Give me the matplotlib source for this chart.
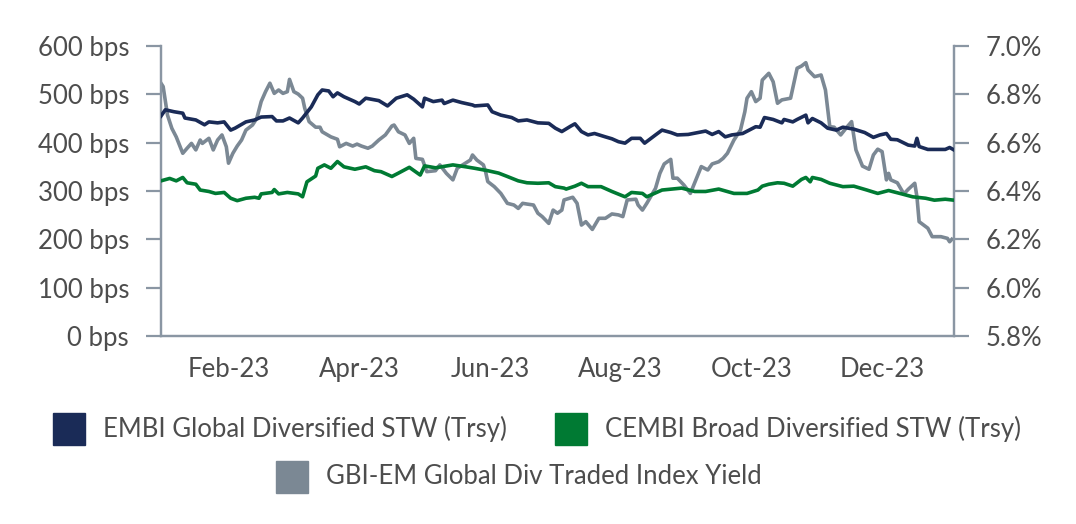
import numpy as np
import pandas as pd
import matplotlib
matplotlib.use("Agg")
import matplotlib.pyplot as plt
from matplotlib.patches import Rectangle

plt.rcParams['font.family'] = ['Lato', 'DejaVu Sans']

# days since 2023-01-01 and values
embi_days = [0, 2, 6, 10, 11, 16, 20, 22, 26, 29, 32, 34, 39, 43, 46, 51, 53, 56, 59, 63,
             65, 69, 72, 74, 77, 79, 81, 84, 89, 91, 94, 100, 104, 108, 113, 116, 120, 121,
             125, 129, 130, 134, 138, 143, 144, 150, 152, 156, 161, 164, 168, 173, 178, 181,
             184, 188, 190, 193, 196, 199, 204, 207, 210, 213, 216, 220, 222, 227, 230, 234,
             237, 242, 250, 253, 256, 259, 262, 267, 270, 273, 275, 277, 281, 285, 286, 290,
             292, 296, 297, 299, 303, 306, 310, 313, 318, 323, 327, 330, 333, 335, 338, 343,
             346, 347, 348, 352, 356, 360, 362, 364]
embi = [455, 468, 464, 461, 451, 447, 437, 443, 441, 443, 426, 430, 443, 447, 453, 454, 445,
        445, 451, 441, 451, 474, 499, 509, 507, 495, 503, 495, 485, 480, 492, 487, 476, 492,
        499, 490, 474, 492, 485, 488, 481, 488, 483, 478, 476, 478, 464, 457, 452, 445, 447,
        441, 440, 430, 423, 434, 439, 423, 416, 419, 412, 408, 402, 399, 409, 409, 399, 416,
        426, 421, 416, 417, 424, 417, 423, 412, 416, 419, 426, 433, 432, 452, 448, 441, 448,
        443, 448, 457, 441, 450, 441, 430, 426, 432, 428, 421, 411, 416, 419, 407, 406, 395,
        393, 409, 392, 386, 386, 386, 390, 385]

cembi_days = [0, 4, 7, 10, 12, 16, 18, 22, 25, 29, 32, 35, 39, 43, 45, 46, 51, 52, 54, 58,
              63, 65, 67, 71, 72, 75, 78, 81, 84, 89, 94, 98, 101, 106, 109, 114, 119, 121,
              126, 134, 140, 144, 150, 155, 159, 164, 168, 173, 178, 181, 185, 186, 190, 193,
              196, 202, 207, 213, 216, 221, 223, 230, 239, 245, 250, 256, 263, 269, 274, 276,
              279, 283, 286, 290, 294, 296, 298, 299, 303, 307, 313, 318, 324, 329, 334, 340,
              345, 351, 355, 360, 364]
cembi = [321, 326, 321, 328, 317, 314, 302, 299, 295, 297, 285, 280, 285, 287, 285, 294, 297,
         303, 294, 297, 294, 288, 319, 331, 347, 354, 347, 361, 350, 345, 350, 342, 340, 330,
         337, 349, 333, 352, 348, 354, 350, 347, 342, 337, 330, 321, 317, 316, 317, 309, 306,
         304, 310, 316, 309, 309, 299, 288, 297, 295, 288, 302, 306, 299, 299, 304, 295, 295,
         302, 310, 314, 317, 316, 310, 324, 328, 319, 328, 324, 316, 309, 310, 302, 295, 301,
         294, 288, 285, 281, 283, 281]

gbi_days = [0, 1, 3, 5, 7, 10, 12, 14, 16, 18, 19, 22, 24, 26, 28, 30, 31, 33, 35, 37, 39,
            42, 44, 46, 48, 50, 52, 54, 56, 58, 59, 61, 63, 65, 66, 68, 71, 73, 74, 78, 81,
            82, 85, 88, 90, 92, 95, 97, 100, 103, 106, 107, 109, 112, 114, 116, 117, 120,
            122, 126, 128, 131, 134, 136, 140, 142, 143, 145, 148, 149, 150, 153, 156, 159,
            162, 164, 166, 168, 171, 173, 175, 178, 180, 182, 184, 185, 189, 191, 193, 195,
            198, 201, 204, 207, 210, 212, 214, 218, 219, 221, 223, 227, 229, 231, 234, 235,
            237, 240, 243, 245, 248, 251, 253, 256, 258, 260, 263, 266, 268, 269, 271, 273,
            275, 276, 279, 281, 283, 285, 289, 292, 294, 296, 297, 300, 303, 305, 307, 309,
            312, 315, 317, 319, 322, 325, 327, 329, 331, 333, 334, 335, 338, 341, 343, 346,
            347, 348, 352, 354, 358, 361, 362, 363]
gbi = [6.846, 6.832, 6.714, 6.659, 6.624, 6.556, 6.577, 6.597, 6.570, 6.611, 6.597, 6.618,
       6.570, 6.611, 6.632, 6.583, 6.515, 6.556, 6.586, 6.611, 6.652, 6.673, 6.701, 6.770,
       6.811, 6.846, 6.804, 6.818, 6.804, 6.811, 6.862, 6.811, 6.801, 6.784, 6.742, 6.687,
       6.664, 6.664, 6.645, 6.624, 6.614, 6.583, 6.597, 6.586, 6.594, 6.586, 6.577, 6.586,
       6.611, 6.632, 6.669, 6.673, 6.645, 6.632, 6.597, 6.618, 6.535, 6.531, 6.480, 6.484,
       6.508, 6.473, 6.446, 6.494, 6.517, 6.528, 6.549, 6.528, 6.508, 6.480, 6.439, 6.418,
       6.390, 6.349, 6.342, 6.328, 6.349, 6.346, 6.342, 6.308, 6.294, 6.266, 6.321, 6.308,
       6.321, 6.363, 6.374, 6.349, 6.259, 6.273, 6.241, 6.287, 6.287, 6.305, 6.301, 6.294,
       6.363, 6.366, 6.342, 6.321, 6.349, 6.411, 6.473, 6.512, 6.531, 6.453, 6.453, 6.425,
       6.390, 6.434, 6.501, 6.487, 6.512, 6.521, 6.535, 6.556, 6.611, 6.652, 6.728, 6.784,
       6.811, 6.770, 6.784, 6.859, 6.887, 6.852, 6.763, 6.777, 6.784, 6.908, 6.917, 6.931,
       6.901, 6.873, 6.880, 6.818, 6.666, 6.664, 6.632, 6.666, 6.687, 6.570, 6.503, 6.490,
       6.549, 6.573, 6.563, 6.446, 6.473, 6.446, 6.434, 6.388, 6.407, 6.432, 6.376, 6.273,
       6.246, 6.211, 6.211, 6.204, 6.190, 6.200]

labels = ['EMBI Global Diversified STW (Trsy)', 'CEMBI Broad Diversified STW (Trsy)',
          'GBI-EM Global Div Traded Index Yield']
colors = ['#1a2b57', '#007a33', '#7b8894']
tick_dates = ['2023-02-01', '2023-04-02', '2023-06-01', '2023-07-31', '2023-09-29', '2023-11-28']
tick_labels = ['Feb-23', 'Apr-23', 'Jun-23', 'Aug-23', 'Oct-23', 'Dec-23']

start = pd.Timestamp('2023-01-01')
to_dates = lambda d: start + pd.to_timedelta(d, unit='D')

axis_col = '#8a96a3'
text_col = '#4d4d4d'
fs = 18.5

fig = plt.figure(figsize=(10.76, 5.24), dpi=100)
ax = fig.add_axes([0.1496, 0.3588, 0.7370, 0.5534])
ax2 = ax.twinx()

ax.plot(to_dates(embi_days), embi, color=colors[0], lw=2.6, zorder=3)
ax.plot(to_dates(cembi_days), cembi, color=colors[1], lw=2.6, zorder=3)
ax2.plot(to_dates(gbi_days), gbi, color=colors[2], lw=2.6)
ax.set_zorder(ax2.get_zorder() + 1)
ax.patch.set_visible(False)

ax.set_xlim(start, pd.Timestamp('2023-12-31'))
ax.set_ylim(0, 600)
ax2.set_ylim(5.8, 7.0)
ax.set_yticks(range(0, 601, 100))
ax.set_yticklabels([f'{v} bps' for v in range(0, 601, 100)])
yt = np.arange(5.8, 7.01, 0.2)
ax2.set_yticks(yt)
ax2.set_yticklabels([f'{v:.1f}%' for v in yt])
ax.set_xticks(pd.to_datetime(tick_dates))
ax.set_xticklabels(tick_labels)

for a in (ax, ax2):
    a.spines['top'].set_visible(False)
    for s in ('left', 'right', 'bottom'):
        a.spines[s].set_color(axis_col)
        a.spines[s].set_linewidth(1.6)
    a.tick_params(axis='y', length=11, width=1.6, color=axis_col, labelsize=fs,
                  labelcolor=text_col, pad=12)
ax.tick_params(axis='x', length=0, labelsize=fs, labelcolor=text_col, pad=15)

# legend drawn by hand: (patch left px, row center px from top, series index)
leg = [(53, 429, 0), (555, 429, 1), (276, 477, 2)]
W, H = 1076, 524
for px, py, i in leg:
    fig.patches.append(Rectangle((px / W, (H - py - 16) / H), 32 / W, 32 / H,
                                 transform=fig.transFigure, color=colors[i]))
    fig.text((px + 50) / W, (H - py) / H, labels[i], fontsize=fs, color=text_col,
             va='center')

fig.savefig('out.png', dpi=100)
